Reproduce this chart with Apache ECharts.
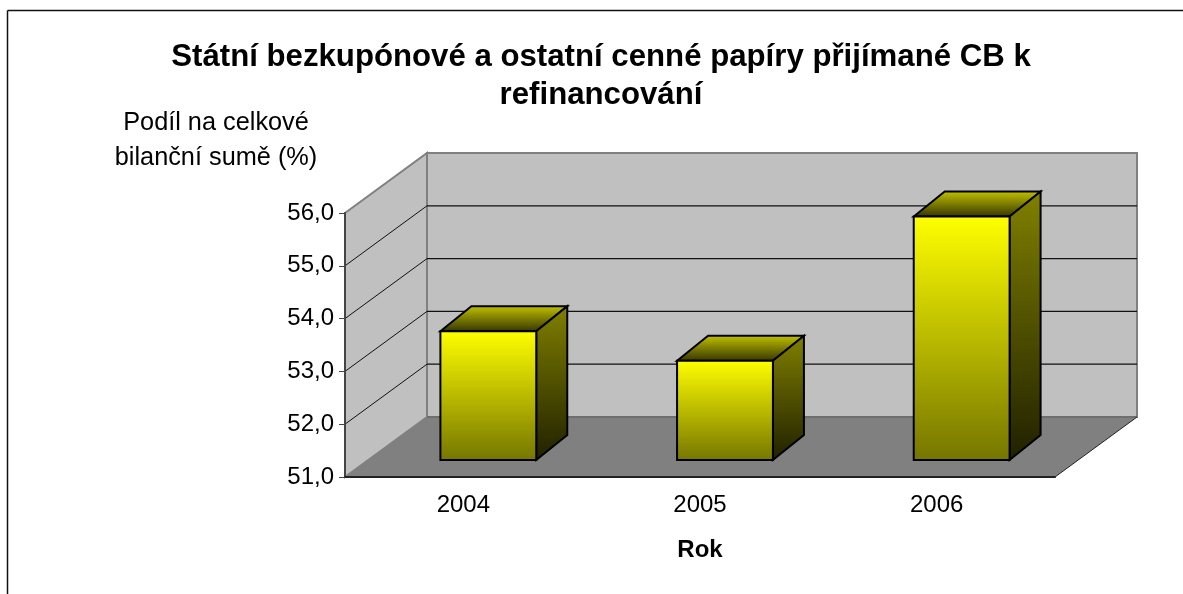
<!DOCTYPE html>
<html>
<head>
<meta charset="utf-8">
<style>
    html, body { margin: 0; padding: 0; background: #fff; }
    #chart { width: 1183px; height: 594px; }
</style>
<script src="https://cdn.jsdelivr.net/npm/echarts@6/dist/echarts.min.js"></script>
</head>
<body>
<div id="chart"></div>
<script>
const years = ['2004', '2005', '2006']
const shares = [53.44, 52.88, 55.61]
const yTicks = [51, 52, 53, 54, 55, 56]
const titleText = 'Státní bezkupónové a ostatní cenné papíry přijímané CB k\nrefinancování'
const yName = 'Podíl na celkové\nbilanční sumě (%)'
const xName = 'Rok'

const font = 'Liberation Sans, Arial, sans-serif'
// hloubka sceny a sloupcu v pixelech
const wallDepth = [82, -60]
const barDepth = [31, -25]
const barShift = [25, -17]

function vertical(top, bottom) {
    return {
        type: 'linear', x: 0, y: 0, x2: 0, y2: 1,
        colorStops: [{ offset: 0, color: top }, { offset: 1, color: bottom }],
    }
}

function poly(points, fill, stroke, lineWidth) {
    return {
        type: 'polygon',
        shape: { points: points },
        style: { fill: fill, stroke: stroke, lineWidth: lineWidth },
    }
}

function line(a, b, stroke, lineWidth) {
    return {
        type: 'line',
        shape: { x1: a[0], y1: a[1], x2: b[0], y2: b[1] },
        style: { stroke: stroke, lineWidth: lineWidth },
    }
}

function renderWalls(params, api) {
    const c = params.coordSys
    const dx = wallDepth[0]
    const dy = wallDepth[1]
    const left = c.x
    const right = c.x + c.width
    const top = c.y
    const bottom = c.y + c.height
    const children = [
        poly([[left + dx, top + dy], [right + dx, top + dy], [right + dx, bottom + dy], [left + dx, bottom + dy]], '#c0c0c0', '#808080', 2),
        poly([[left, top], [left + dx, top + dy], [left + dx, bottom + dy], [left, bottom]], '#c0c0c0', '#808080', 2),
    ]
    yTicks.forEach(tick => {
        if (tick === yTicks[0] || tick === yTicks[yTicks.length - 1]) {
            return
        }
        const y = api.coord([0, tick])[1]
        children.push(line([left, y], [left + dx, y + dy], '#111', 1))
        children.push(line([left + dx, y + dy], [right + dx, y + dy], '#111', 1.2))
    })
    children.push(poly([[left, bottom], [left + dx, bottom + dy], [right + dx, bottom + dy], [right, bottom]], '#808080', null, 0))
    children.push(line([left + dx, bottom + dy], [right + dx, bottom + dy], '#6e6e6e', 2))
    children.push(line([right, bottom], [right + dx, bottom + dy], '#222', 1))
    return { type: 'group', children: children }
}

function renderBar(params, api) {
    const center = api.coord([api.value(0), api.value(1)])
    const base = api.coord([api.value(0), yTicks[0]])
    const width = api.size([1, 0])[0] * 0.405
    const x0 = center[0] + barShift[0] - width / 2
    const x1 = x0 + width
    const y0 = center[1] + barShift[1]
    const y1 = base[1] + barShift[1]
    const dx = barDepth[0]
    const dy = barDepth[1]
    return {
        type: 'group',
        children: [
            poly([[x0, y0], [x0 + dx, y0 + dy], [x1 + dx, y0 + dy], [x1, y0]], vertical('#c4c400', '#333300'), '#000', 2),
            poly([[x1, y0], [x1 + dx, y0 + dy], [x1 + dx, y1 + dy], [x1, y1]], vertical('#808000', '#202000'), '#000', 2),
            poly([[x0, y0], [x1, y0], [x1, y1], [x0, y1]], vertical('#ffff00', '#757500'), '#000', 2),
        ],
    }
}

const chart = echarts.init(document.getElementById('chart'), null, { renderer: 'canvas' })
chart.setOption({
    animation: false,
    backgroundColor: '#fff',
    textStyle: { fontFamily: font },
    title: {
        text: titleText,
        left: 596,
        top: 33,
        textAlign: 'center',
        textStyle: { fontFamily: font, fontSize: 31.2, fontWeight: 'bold', color: '#000', lineHeight: 38 },
    },
    graphic: [
        // ramecek grafu, vpravo a dole je oriznuty
        { type: 'line', shape: { x1: 7.5, y1: 10.5, x2: 1183, y2: 10.5 }, style: { stroke: '#111', lineWidth: 1.5 } },
        { type: 'line', shape: { x1: 7.5, y1: 10.5, x2: 7.5, y2: 594 }, style: { stroke: '#111', lineWidth: 1.5 } },
    ],
    grid: { left: 345, right: 128, top: 213, bottom: 117 },
    xAxis: {
        type: 'category',
        data: years,
        z: 5,
        name: xName,
        nameLocation: 'middle',
        nameGap: 61,
        nameTextStyle: { fontFamily: font, fontSize: 24, fontWeight: 'bold', color: '#000' },
        axisLine: { lineStyle: { color: '#222', width: 2 } },
        axisTick: { length: 6, lineStyle: { color: '#000', width: 1 } },
        axisLabel: { fontFamily: font, fontSize: 24, color: '#000', margin: 16 },
    },
    yAxis: {
        type: 'value',
        min: 51,
        max: 56,
        interval: 1,
        z: 5,
        name: yName,
        nameGap: 37,
        nameTextStyle: { fontFamily: font, fontSize: 25.3, color: '#000', align: 'center', lineHeight: 35, padding: [0, 258, 0, 0] },
        axisLine: { show: true, lineStyle: { color: '#444', width: 2 } },
        axisTick: { show: true, length: 6, lineStyle: { color: '#444', width: 1 } },
        splitLine: { show: false },
        axisLabel: {
            fontFamily: font,
            fontSize: 24,
            color: '#000',
            margin: 11,
            formatter: v => v.toFixed(1).replace('.', ','),
        },
    },
    series: [
        {
            type: 'custom',
            silent: true,
            z: 1,
            renderItem: renderWalls,
            encode: { x: 0, y: 1 },
            data: [[0, yTicks[0]]],
        },
        {
            type: 'custom',
            silent: true,
            z: 6,
            renderItem: renderBar,
            encode: { x: 0, y: 1 },
            data: years.map((y, i) => [i, shares[i]]),
        },
    ],
})
</script>
</body>
</html>
